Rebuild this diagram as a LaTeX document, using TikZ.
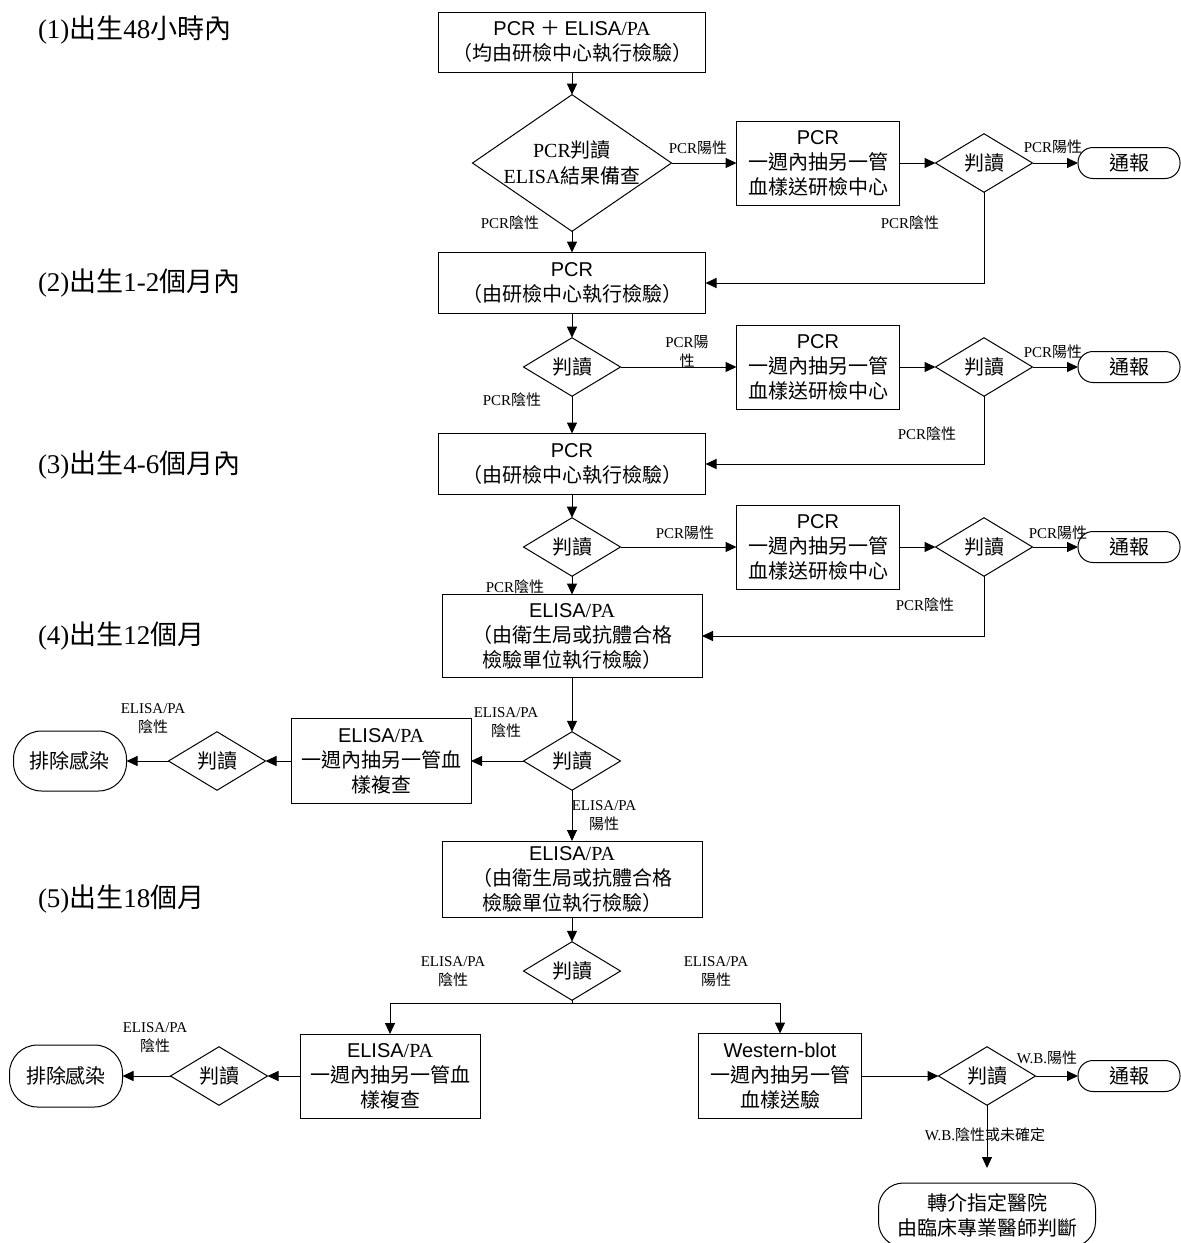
\documentclass[tikz,border=0pt]{standalone}
\usepackage{fontspec}
\setmainfont{Liberation Serif}
\newfontfamily\cjk{Noto Sans CJK TC}
\newfontfamily\hv{Liberation Sans}
\usetikzlibrary{shapes.geometric,arrows.meta}
\newcommand\zh[1]{{\cjk #1}}
\begin{document}
\begin{tikzpicture}[x=1pt,y=-1pt,
 every node/.style={inner sep=0pt,outer sep=0pt},
 box/.style={draw,line width=1pt,align=center,font=\fontsize{20}{25}\selectfont\cjk},
 dia/.style={diamond,draw,line width=1pt,minimum width=97,minimum height=37,font=\fontsize{20}{26}\selectfont\rmfamily},
 term/.style={draw,line width=1pt,align=center,rounded corners=15,minimum width=102,minimum height=31,font=\fontsize{20}{25}\selectfont\cjk},
 stage/.style={anchor=west,font=\fontsize{27}{30}\selectfont\rmfamily},
 lbl/.style={font=\fontsize{15}{19}\selectfont\rmfamily,align=center},
 conn/.style={line width=1pt,-{Triangle[length=11pt,width=10pt]}}]
\useasboundingbox (0,0) rectangle (1181,1243);

% stage labels
\node[stage] (s1) at (38,30) {(1)\zh{出生}48\zh{小時內}};
\node[stage] (s2) at (38,283) {(2)\zh{出生}1-2\zh{個月內}};
\node[stage] (s3) at (38,465) {(3)\zh{出生}4-6\zh{個月內}};
\node[stage] (s4) at (38,636) {(4)\zh{出生}12\zh{個月}};
\node[stage] (s5) at (38,899) {(5)\zh{出生}18\zh{個月}};

% main column
\node[box,minimum width=267,minimum height=60] (b0) at (572,42) {{\hv PCR} ＋ {\hv ELISA}{\rmfamily /PA}\\（均由研檢中心執行檢驗）};
\node[dia,minimum width=199,minimum height=97] (d1) at (572,163) {\smash{\raisebox{-7pt}{\begin{tabular}{@{}c@{}}PCR\zh{判讀}\\ELISA\zh{結果備查}\end{tabular}}}};
\node[box,minimum width=267,minimum height=61] (b2) at (572,283) {{\hv PCR}\\（由研檢中心執行檢驗）};
\node[dia] (d2) at (572,367) {\zh{判讀}};
\node[box,minimum width=267,minimum height=61] (b3) at (572,464) {{\hv PCR}\\（由研檢中心執行檢驗）};
\node[dia] (d3) at (572,547) {\zh{判讀}};
\node[box,minimum width=260,minimum height=83] (b4) at (572,636) {{\hv ELISA}{\rmfamily /PA}\\（由衛生局或抗體合格\\檢驗單位執行檢驗）};
\node[dia] (d4) at (572,761) {\zh{判讀}};
\node[box,minimum width=260,minimum height=76] (b5) at (572,879) {{\hv ELISA}{\rmfamily /PA}\\（由衛生局或抗體合格\\檢驗單位執行檢驗）};
\node[dia] (d5) at (572,971) {\zh{判讀}};

% right column
\node[box,minimum width=163,minimum height=84] (r1) at (818,163) {{\hv PCR}\\一週內抽另一管\\血樣送研檢中心};
\node[dia] (dr1) at (984,163) {\zh{判讀}};
\node[term] (t1) at (1129,163) {通報};
\node[box,minimum width=163,minimum height=84] (r2) at (818,367) {{\hv PCR}\\一週內抽另一管\\血樣送研檢中心};
\node[dia] (dr2) at (984,367) {\zh{判讀}};
\node[term] (t2) at (1129,367) {通報};
\node[box,minimum width=163,minimum height=84] (r3) at (818,547) {{\hv PCR}\\一週內抽另一管\\血樣送研檢中心};
\node[dia] (dr3) at (984,547) {\zh{判讀}};
\node[term] (t3) at (1129,547) {通報};

% row 4 left
\node[box,minimum width=180,minimum height=85] (l4) at (381,761) {{\hv ELISA}{\rmfamily /PA}\\一週內抽另一管血\\樣複查};
\node[dia] (dl4) at (217,761) {\zh{判讀}};
\node[term,minimum width=113,minimum height=60,rounded corners=28] (x4) at (70,761) {排除感染};

% row 5
\coordinate (sp) at (572,1003);
\node[box,minimum width=180,minimum height=84] (l5) at (390,1076) {{\hv ELISA}{\rmfamily /PA}\\一週內抽另一管血\\樣複查};
\node[dia] (dl5) at (219,1076) {\zh{判讀}};
\node[term,minimum width=113,minimum height=62,rounded corners=28] (x5) at (66,1076) {排除感染};
\node[box,minimum width=163,minimum height=85] (wb) at (780,1076) {{\hv Western-blot}\\一週內抽另一管\\血樣送驗};
\node[dia] (dwb) at (987,1076) {\zh{判讀}};
\node[term] (twb) at (1129,1076) {通報};
\node[term,minimum width=217,minimum height=64,rounded corners=25] (tref) at (987,1215) {轉介指定醫院\\由臨床專業醫師判斷};

% connectors
\draw[conn] (b0.south) -- (d1.north);
\draw[conn] (d1.east) -- (r1.west);
\draw[conn] (r1.east) -- (dr1.west);
\draw[conn] (dr1.east) -- (t1.west);
\draw[conn] (d1.south) -- (b2.north);
\draw[conn] (dr1.south) |- (b2.east);

\draw[conn] (b2.south) -- (d2.north);
\draw[conn] (d2.east) -- (r2.west);
\draw[conn] (r2.east) -- (dr2.west);
\draw[conn] (dr2.east) -- (t2.west);
\draw[conn] (d2.south) -- (b3.north);
\draw[conn] (dr2.south) |- (b3.east);

\draw[conn] (b3.south) -- (d3.north);
\draw[conn] (d3.east) -- (r3.west);
\draw[conn] (r3.east) -- (dr3.west);
\draw[conn] (dr3.east) -- (t3.west);
\draw[conn] (d3.south) -- (b4.north);
\draw[conn] (dr3.south) |- (b4.east);

\draw[conn] (b4.south) -- (d4.north);
\draw[conn] (d4.west) -- (l4.east);
\draw[conn] (l4.west) -- (dl4.east);
\draw[conn] (dl4.west) -- (x4.east);
\draw[conn] (d4.south) -- (b5.north);

\draw[conn] (b5.south) -- (d5.north);
\draw[line width=1pt] (d5.south) -- (sp);
\draw[conn] (sp) -| (l5.north);
\draw[conn] (sp) -| (wb.north);
\draw[conn] (l5.west) -- (dl5.east);
\draw[conn] (dl5.west) -- (x5.east);
\draw[conn] (wb.east) -- (dwb.west);
\draw[conn] (dwb.east) -- (twb.west);
\draw[conn,shorten >=15pt] (dwb.south) -- (tref.north);

% connector labels
\node[lbl] (la1) at (698,148) {PCR\zh{陽性}};
\node[lbl] (la2) at (1053,147) {PCR\zh{陽性}};
\node[lbl] (la3) at (510,223) {PCR\zh{陰性}};
\node[lbl] (la4) at (910,223) {PCR\zh{陰性}};
\node[lbl] (la5) at (687,352) {PCR\zh{陽}\\\zh{性}};
\node[lbl] (la6) at (1053,352) {PCR\zh{陽性}};
\node[lbl] (la7) at (512,400) {PCR\zh{陰性}};
\node[lbl] (la8) at (927,434) {PCR\zh{陰性}};
\node[lbl] (la9) at (685,533) {PCR\zh{陽性}};
\node[lbl] (la10) at (1058,533) {PCR\zh{陽性}};
\node[lbl] (la11) at (515,587) {PCR\zh{陰性}};
\node[lbl] (la12) at (925,605) {PCR\zh{陰性}};
\node[lbl] (la13) at (506,723) {ELISA/PA\\\zh{陰性}};
\node[lbl] (la14) at (153,719) {ELISA/PA\\\zh{陰性}};
\node[lbl] (la15) at (604,816) {ELISA/PA\\\zh{陽性}};
\node[lbl] (la16) at (453,972) {ELISA/PA\\\zh{陰性}};
\node[lbl] (la17) at (716,972) {ELISA/PA\\\zh{陽性}};
\node[lbl] (la18) at (155,1038) {ELISA/PA\\\zh{陰性}};
\node[lbl] (la19) at (1047,1058) {W.B.\zh{陽性}};
\node[lbl] (la20) at (985,1135) {W.B.\zh{陰性或未確定}};
\end{tikzpicture}
\end{document}
